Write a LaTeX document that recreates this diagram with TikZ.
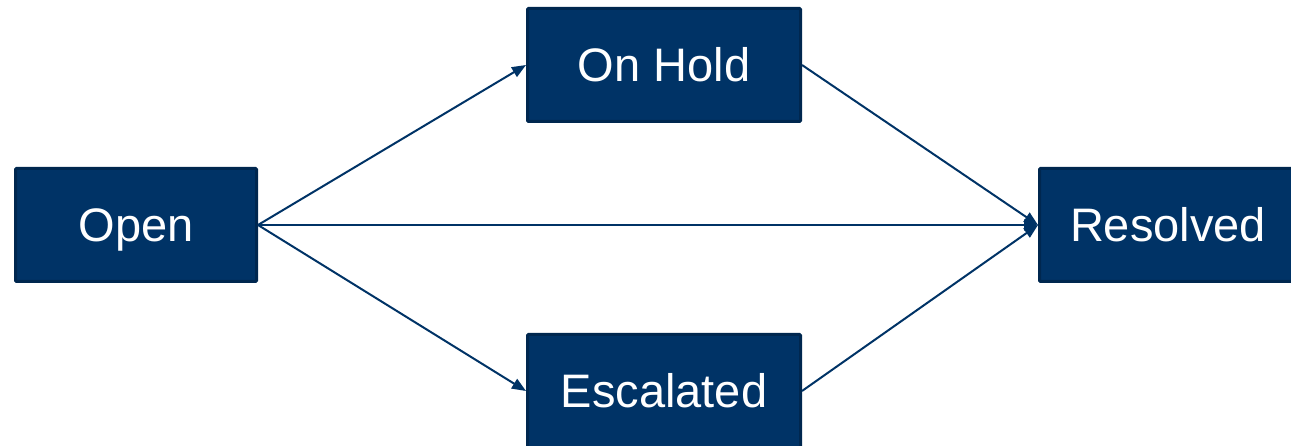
\documentclass[tikz,border=0pt]{standalone}
\usepackage{fontspec}
\setmainfont{Liberation Sans}
\usetikzlibrary{arrows.meta}
\definecolor{navy}{HTML}{003366}
\definecolor{navyedge}{HTML}{00274F}
\begin{document}
\begin{tikzpicture}[x=1pt,y=-1pt,
 state/.style={draw=navyedge, line width=3pt, fill=navy, text=white,
   font=\fontsize{47}{50}\selectfont, text height=33.5pt, text depth=0pt,
   minimum height=113pt, inner sep=0pt, rounded corners=1pt},
 flow/.style={draw=navy, line width=2pt, -{Triangle[length=14pt,width=11pt]}}]
\useasboundingbox (0,0) rectangle (1291,446);
\node[state, minimum width=241pt] (open) at (136,225) {Open};
\node[state, minimum width=273pt] (onhold) at (664,65) {On Hold};
\node[state, minimum width=273pt] (esc) at (664,391) {Escalated};
\node[state, minimum width=257pt] (res) at (1168,225) {Resolved};
\draw[flow] (open.east) -- (onhold.west);
\draw[flow] (open.east) -- (esc.west);
\draw[flow] (open.east) -- (res.west);
\draw[flow] (onhold.east) -- (res.west);
\draw[flow] (esc.east) -- (res.west);
\end{tikzpicture}
\end{document}
